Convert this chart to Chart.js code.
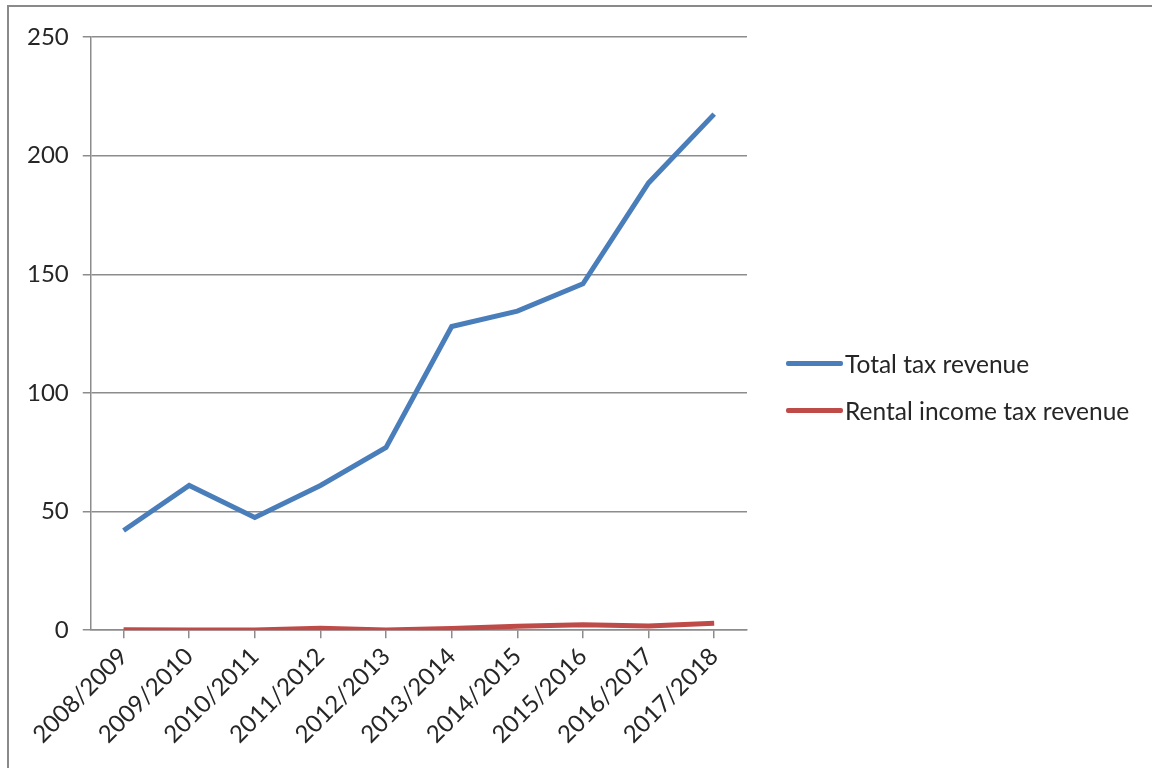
<!DOCTYPE html>
<html lang="en">
<head>
  <meta charset="UTF-8">
  <title>Tax revenue</title>
  <script src="https://cdn.jsdelivr.net/npm/chart.js"></script>
  <style>
    body {
      margin: 0;
      background: #ffffff;
      width: 1152px;
      height: 768px;
      overflow: hidden;
      position: relative;
      font-family: 'Lato', sans-serif;
    }
    .frame {
      position: absolute;
      left: 7px;
      top: 5px;
      width: 1160px;
      height: 780px;
      border: 2px solid #8a8a8a;
    }
    #taxChart {
      position: absolute;
      left: 0;
      top: 0;
    }
    #legend {
      position: absolute;
      left: 786px;
      top: 340px;
      margin: 0;
      padding: 0;
      list-style: none;
    }
    #legend li {
      display: flex;
      align-items: center;
      height: 47px;
      font-size: 24.5px;
      color: #262626;
      white-space: nowrap;
    }
    #legend .swatch {
      display: inline-block;
      width: 57px;
      height: 5px;
      border-radius: 2px;
      margin-right: 2px;
    }
  </style>
</head>
<body>
  <div class="frame"></div>
  <canvas id="taxChart" width="1152" height="768"></canvas>
  <ul id="legend"></ul>

  <script>
    // data
    const years = ['2008/2009', '2009/2010', '2010/2011', '2011/2012', '2012/2013',
                   '2013/2014', '2014/2015', '2015/2016', '2016/2017', '2017/2018'];
    const totalTax = [42, 61, 47.5, 61, 77, 128, 134.5, 146, 188.5, 217.5];
    const rentalTax = [0.2, 0.1, 0.1, 0.8, 0.1, 0.7, 1.7, 2.3, 1.8, 2.9];
    const yTicks = [0, 50, 100, 150, 200, 250];

    const textColor = '#262626';
    const gridColor = '#8c8c8c';
    const font = { family: 'Lato', size: 24 };

    // the built-in legend gets squeezed and clipped on the right, so build it in html
    const htmlLegend = {
      id: 'htmlLegend',
      afterUpdate(chart) {
        const ul = document.getElementById('legend');
        ul.innerHTML = '';
        chart.options.plugins.legend.labels.generateLabels(chart).forEach(item => {
          const li = document.createElement('li');
          const sw = document.createElement('span');
          sw.className = 'swatch';
          sw.style.background = item.strokeStyle;
          li.appendChild(sw);
          li.appendChild(document.createTextNode(item.text));
          ul.appendChild(li);
        });
      }
    };

    const ctx = document.getElementById('taxChart').getContext('2d');
    const chart = new Chart(ctx, {
      type: 'line',
      data: {
        labels: years,
        datasets: [
          {
            label: 'Total tax revenue',
            data: totalTax,
            borderColor: '#4a7ebb',
            backgroundColor: '#4a7ebb',
            borderWidth: 5,
            pointRadius: 0,
            tension: 0,
            fill: false
          },
          {
            label: 'Rental income tax revenue',
            data: rentalTax,
            borderColor: '#be4b48',
            backgroundColor: '#be4b48',
            borderWidth: 5,
            pointRadius: 0,
            tension: 0,
            fill: false
          }
        ]
      },
      options: {
        responsive: false,
        animation: false,
        layout: {
          padding: { left: 13, top: 37, right: 405, bottom: 15 }
        },
        plugins: {
          tooltip: { enabled: false },
          legend: { display: false }
        },
        scales: {
          x: {
            offset: true,
            grid: {
              display: true,
              drawOnChartArea: false,
              drawTicks: true,
              tickLength: 8,
              color: gridColor,
              lineWidth: 1.5
            },
            border: { color: gridColor, width: 1.5 },
            ticks: {
              color: textColor,
              font: font,
              maxRotation: 45,
              minRotation: 45,
              padding: 4
            }
          },
          y: {
            min: 0,
            max: 250,
            afterBuildTicks: (axis) => {
              axis.ticks = yTicks.map(v => ({ value: v }));
            },
            grid: {
              color: gridColor,
              lineWidth: 1.5,
              drawTicks: true,
              tickLength: 8
            },
            border: { color: gridColor, width: 1.5 },
            ticks: {
              color: textColor,
              font: font,
              padding: 14
            }
          }
        }
      },
      plugins: [htmlLegend]
    });
  </script>
</body>
</html>
